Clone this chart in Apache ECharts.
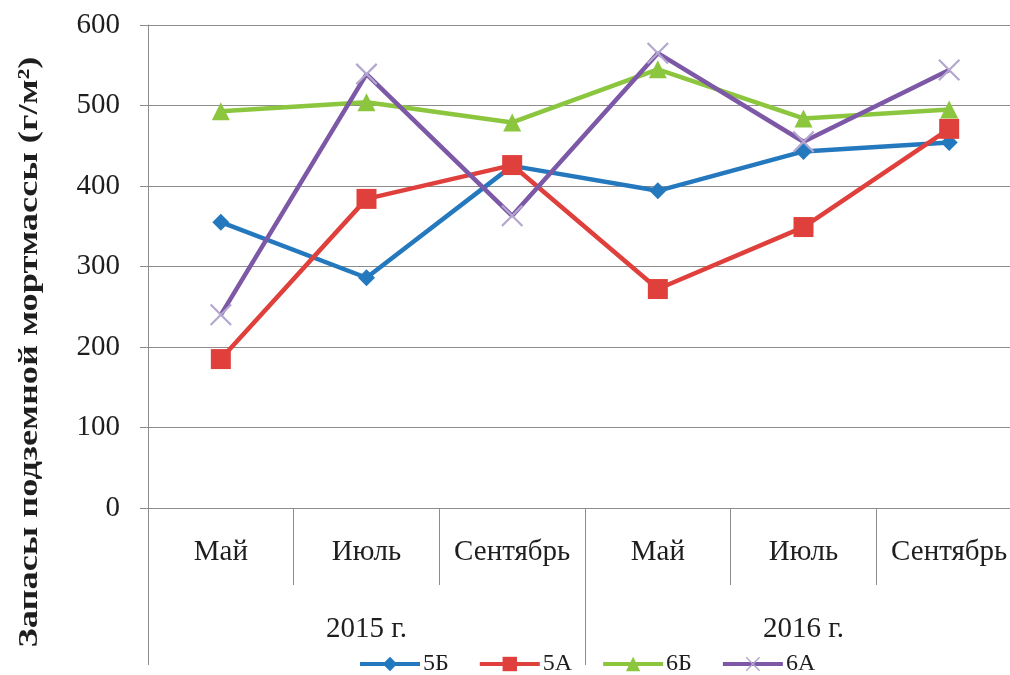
<!DOCTYPE html>
<html>
<head>
<meta charset="utf-8">
<script src="https://cdn.jsdelivr.net/npm/echarts@6/dist/echarts.min.js"></script>
<style>
  html, body { margin: 0; padding: 0; background: #fff; overflow: hidden; }
  #chart { width: 1022px; height: 675px; }
</style>
</head>
<body>
<div id="chart"></div>
<script>
// Months of sampling and the year each group belongs to
const months = ['Май', 'Июль', 'Сентябрь', 'Май', 'Июль', 'Сентябрь'];
const years = ['2015 г.', '2016 г.'];

// Underground mortmass stocks, g/m², per plot
const s5B = [355, 286, 425, 394, 443, 454];
const s5A = [185, 384, 426, 272, 349, 471];
const s6B = [493, 504, 479, 545, 484, 495];
const s6A = [240, 539, 363, 565, 455, 544];

const yTicks = [0, 100, 200, 300, 400, 500, 600];

const serif = '"Liberation Serif", "DejaVu Serif", serif';
const gridColor = '#8c8c8c';
const textColor = '#1e1e1e';

// thin "x" marker
const crossPath = 'path://M0,1.4 L1.4,0 L20,18.6 L18.6,20 Z M18.6,0 L20,1.4 L1.4,20 L0,18.6 Z';

const chart = echarts.init(document.getElementById('chart'));

function lineSeries(name, data, color, symbol, size, symbolColor) {
  return {
    name: name,
    type: 'line',
    xAxisIndex: 0,
    data: data,
    symbol: symbol,
    symbolSize: size,
    showAllSymbol: true,
    lineStyle: { color: color, width: 4.5 },
    itemStyle: { color: symbolColor || color, borderWidth: 0 },
    emphasis: { disabled: true },
    z: 3
  };
}

chart.setOption({
  animation: false,
  backgroundColor: '#fff',
  grid: { left: 148, top: 25, right: 0, bottom: 167, containLabel: false },
  xAxis: [
    {
      type: 'category',
      data: months,
      position: 'bottom',
      boundaryGap: true,
      axisLine: { show: true, lineStyle: { color: gridColor, width: 1 } },
      axisTick: { show: true, length: 77, alignWithLabel: false, lineStyle: { color: gridColor, width: 1 } },
      axisLabel: { color: textColor, fontFamily: serif, fontSize: 29, margin: 30, interval: 0 },
      splitLine: { show: false }
    },
    {
      type: 'category',
      data: years,
      position: 'bottom',
      boundaryGap: true,
      axisLine: { show: false },
      axisTick: { show: true, length: 157, alignWithLabel: false, lineStyle: { color: gridColor, width: 1 } },
      axisLabel: { color: textColor, fontFamily: serif, fontSize: 29, margin: 107, interval: 0 },
      splitLine: { show: false }
    }
  ],
  yAxis: {
    type: 'value',
    min: yTicks[0],
    max: yTicks[yTicks.length - 1],
    interval: 100,
    axisLine: { show: true, lineStyle: { color: gridColor, width: 1 } },
    axisTick: { show: true, length: 8, lineStyle: { color: gridColor, width: 1 } },
    axisLabel: { color: textColor, fontFamily: serif, fontSize: 29, margin: 28 },
    splitLine: { show: true, lineStyle: { color: gridColor, width: 1 } }
  },
  legend: {
    top: 652,
    left: 358,
    itemGap: 29,
    itemWidth: 60,
    itemHeight: 18,
    padding: 0,
    lineStyle: { width: 4 },
    textStyle: { color: textColor, fontFamily: serif, fontSize: 24, padding: [0, 0, 0, -2] },
    data: ['5Б', '5А', '6Б', '6А']
  },
  graphic: [
    {
      type: 'text',
      x: 30,
      y: 352,
      rotation: Math.PI / 2,
      scaleX: 1.3,
      style: {
        text: 'Запасы подземной мортмассы (г/м²)',
        font: 'bold 28px "Liberation Serif", serif',
        fill: textColor,
        align: 'center',
        verticalAlign: 'middle'
      }
    }
  ],
  series: [
    lineSeries('5Б', s5B, '#2479BE', 'diamond', 17),
    lineSeries('5А', s5A, '#E0403B', 'rect', 20),
    lineSeries('6Б', s6B, '#8CC63F', 'triangle', 18),
    lineSeries('6А', s6A, '#7D58A6', crossPath, 22, '#B3A6CF')
  ]
});
</script>
</body>
</html>
